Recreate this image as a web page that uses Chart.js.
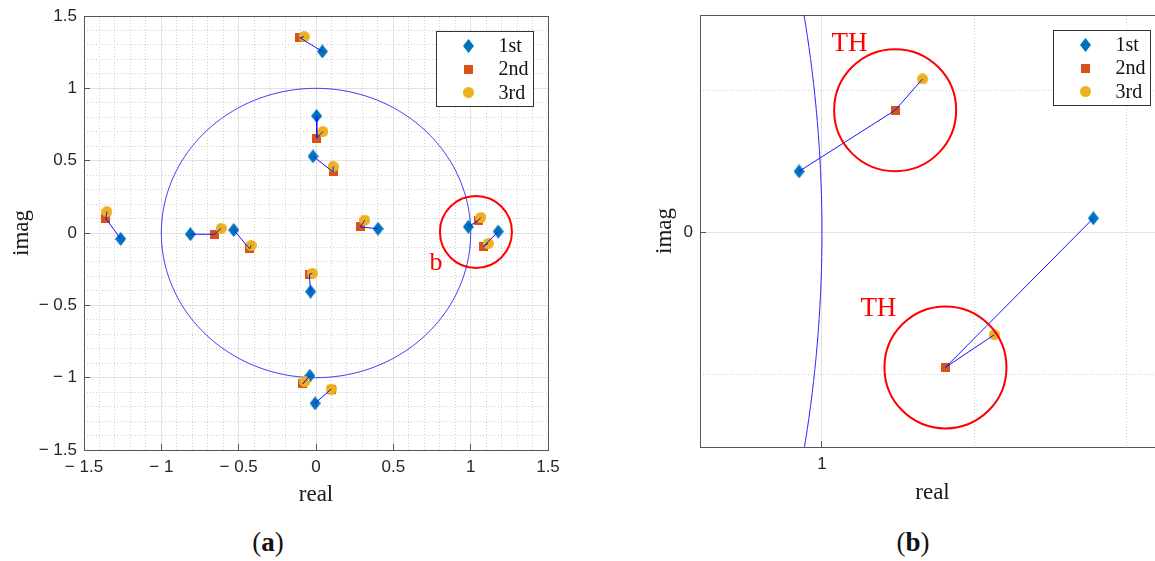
<!DOCTYPE html>
<html><head><meta charset="utf-8">
<script src="https://cdn.jsdelivr.net/npm/chart.js@4"></script>
<style>
html,body{margin:0;padding:0;background:#fff;overflow:hidden;width:1155px;height:561px;position:relative;}
canvas{position:absolute;top:0;}
.cap{position:absolute;top:527px;width:80px;text-align:center;font-family:'Liberation Serif',serif;font-size:27px;color:#111;}
</style></head><body>
<canvas id="ca" width="560" height="509" style="left:0"></canvas>
<canvas id="cb" width="580" height="507" style="left:590px"></canvas>
<div class="cap" style="left:228px">(<b>a</b>)</div>
<div class="cap" style="left:873px">(<b>b</b>)</div>
<script>
// ---- data: pole positions (real / imag) for the 1st, 2nd and 3rd iterations ----
const firstRe  = [0.041, 0.004, -0.019, -1.263, -0.812, -0.532, 0.401, 0.985, 1.178, -0.035, -0.040, -0.006];
const firstIm  = [1.255, 0.809, 0.530, -0.041, -0.008, 0.021, 0.029, 0.043, 0.010, -0.405, -0.987, -1.177];
const secondRe = [-0.105, 0.005, 0.110, -1.359, -0.657, -0.429, 0.288, 1.048, 1.081, -0.043, -0.085, 0.097];
const secondIm = [1.350, 0.656, 0.423, 0.101, -0.009, -0.110, 0.042, 0.086, -0.095, -0.285, -1.042, -1.080];
const thirdRe  = [-0.077, 0.045, 0.111, -1.352, -0.613, -0.420, 0.315, 1.066, 1.113, -0.024, -0.072, 0.098];
const thirdIm  = [1.357, 0.702, 0.460, 0.147, 0.032, -0.086, 0.089, 0.108, -0.072, -0.279, -1.027, -1.079];
const seriesNames = ['1st', '2nd', '3rd'];

// tick labels
const aXTicks = [-1.5, -1, -0.5, 0, 0.5, 1, 1.5];
const aXTickLabels = ['\u2212 1.5', '\u2212 1', '\u2212 0.5', '0', '0.5', '1', '1.5'];
const aYTicks = [-1.5, -1, -0.5, 0, 0.5, 1, 1.5];
const aYTickLabels = ['\u2212 1.5', '\u2212 1', '\u2212 0.5', '0', '0.5', '1', '1.5'];
const bXTicks = [1];
const bXTickLabels = ['1'];
const bYTicks = [0];
const bYTickLabels = ['0'];
const aMinorTicks = [];
for (let k = -14; k <= 14; k++) if (k % 5 !== 0) aMinorTicks.push(k / 10);
const bXMinorTicks = [1.1, 1.2];
const bYMinorTicks = [-0.1, 0.1];

// unit circle reference curve
const unitAngles = [];
for (let d = 0; d <= 360; d += 0.5) unitAngles.push(d * Math.PI / 180);
const unitCircle = unitAngles.map(t => ({x: Math.cos(t), y: Math.sin(t)}));

// ---- marker images ----
function mk(w, h, draw) { const c = document.createElement('canvas'); c.width = w; c.height = h; draw(c.getContext('2d'), w, h); return c; }
const diamondImg = mk(11, 14, (g, w, h) => { g.fillStyle = '#0072BD'; g.beginPath(); g.moveTo(w/2, 0); g.lineTo(w, h/2); g.lineTo(w/2, h); g.lineTo(0, h/2); g.closePath(); g.fill(); });
const squareImg = mk(9, 9, (g, w, h) => { g.fillStyle = '#D95319'; g.fillRect(0, 0, w, h); });
const circleImg = mk(11, 11, (g, w, h) => { g.fillStyle = '#EDB120'; g.beginPath(); g.arc(w/2, h/2, w/2, 0, Math.PI*2); g.fill(); });

const pts = (re, im) => re.map((v, i) => ({x: v, y: im[i]}));

// ---- plugins ----
const boxLegend = {
  id: 'boxLegend',
  afterDraw(chart, args, o) {
    const {ctx, chartArea} = chart;
    const items = chart.data.datasets.filter(d => d.inLegend);
    const x0 = Math.round(chartArea.right - o.inset - o.width) + 0.5;
    const y0 = Math.round(chartArea.top + o.inset) + 0.5;
    ctx.save();
    ctx.fillStyle = '#fff';
    ctx.fillRect(x0, y0, o.width, o.height);
    ctx.strokeStyle = '#333'; ctx.lineWidth = 1;
    ctx.strokeRect(x0, y0, o.width, o.height);
    ctx.font = o.font; ctx.fillStyle = '#111'; ctx.textAlign = 'left'; ctx.textBaseline = 'middle';
    items.forEach((d, i) => {
      const y = y0 + o.firstRow + i * o.rowGap;
      const img = d.pointStyle;
      ctx.drawImage(img, Math.round(x0 + o.markerX - img.width/2), Math.round(y - img.height/2));
      ctx.fillText(d.label, x0 + o.textX, y + 1);
    });
    ctx.restore();
  }
};
const textMarks = {
  id: 'textMarks',
  afterDatasetsDraw(chart, args, o) {
    const {ctx, scales} = chart;
    ctx.save();
    ctx.font = o.font; ctx.fillStyle = o.color; ctx.textAlign = 'center'; ctx.textBaseline = 'middle';
    (o.items || []).forEach(it => ctx.fillText(it.text, scales.x.getPixelForValue(it.x), scales.y.getPixelForValue(it.y)));
    ctx.restore();
  }
};

function makeDatasets(marks) {
  const ds = [];
  ds.push({type: 'line', data: unitCircle, borderColor: 'rgb(25,25,255)', borderWidth: 1, pointRadius: 0, tension: 0.0001, fill: false, order: 10});
  ds.push({label: seriesNames[0], data: pts(firstRe, firstIm), pointStyle: diamondImg, pointRadius: 6, inLegend: true, order: 6});
  ds.push({label: seriesNames[1], data: pts(secondRe, secondIm), pointStyle: squareImg, pointRadius: 5, inLegend: true, order: 5});
  ds.push({label: seriesNames[2], data: pts(thirdRe, thirdIm), pointStyle: circleImg, pointRadius: 5, inLegend: true, order: 4});
  firstRe.forEach((v, i) => {
    ds.push({type: 'line', data: [{x: firstRe[i], y: firstIm[i]}, {x: secondRe[i], y: secondIm[i]}, {x: thirdRe[i], y: thirdIm[i]}],
      borderColor: 'rgb(20,20,255)', borderWidth: 1, pointRadius: 0, tension: 0, fill: false, order: 3});
  });
  ds.push({data: marks.centers, pointStyle: 'circle', pointRadius: marks.radius, backgroundColor: 'rgba(0,0,0,0)',
    borderColor: '#ff0000', borderWidth: 2, order: 2});
  return ds;
}

function noPad(s) { s.paddingLeft = 0; s.paddingRight = 0; s.paddingTop = 0; s.paddingBottom = 0; }

function axes(p) {
  const tickFont = {family: 'Liberation Sans', size: 17};
  const titleFont = {family: 'Liberation Serif', size: 23};
  const majorGrid = {color: '#e2e2e2', lineWidth: 1, drawTicks: true, tickLength: -6, tickColor: '#555', tickWidth: 1};
  return {
    x: {type: 'linear', position: 'bottom', min: p.xmin, max: p.xmax,
      afterBuildTicks: s => { s.ticks = p.xTicks.map(v => ({value: v})); },
      ticks: {callback: (v, i) => p.xLabels[i], font: tickFont, color: '#262626', padding: 13, maxRotation: 0, autoSkip: false},
      grid: majorGrid, border: {color: '#555', width: 1},
      title: {display: true, text: 'real', font: titleFont, color: '#1a1a1a', padding: 0},
      afterFit: s => { s.height = p.xh; noPad(s); }},
    y: {type: 'linear', position: 'left', min: p.ymin, max: p.ymax,
      afterBuildTicks: s => { s.ticks = p.yTicks.map(v => ({value: v})); },
      ticks: {callback: (v, i) => p.yLabels[i], font: tickFont, color: '#262626', padding: 13, autoSkip: false},
      grid: majorGrid, border: {color: '#555', width: 1},
      title: {display: true, text: 'imag', font: titleFont, color: '#1a1a1a', padding: {top: p.yTitlePad, bottom: 0}},
      afterFit: s => { s.width = p.yw; noPad(s); }},
    x2: {type: 'linear', position: 'top', min: p.xmin, max: p.xmax,
      afterBuildTicks: s => { s.ticks = p.xMinor.map(v => ({value: v})); },
      ticks: {display: false}, grid: {color: '#cfcfcf', lineWidth: 1, drawTicks: false},
      border: {display: true, color: '#555', width: 1, dash: [1, 2]},
      afterFit: s => { s.height = 0; noPad(s); }},
    y2: {type: 'linear', position: 'right', min: p.ymin, max: p.ymax,
      afterBuildTicks: s => { s.ticks = p.yMinor.map(v => ({value: v})); },
      ticks: {display: false}, grid: {color: '#cfcfcf', lineWidth: 1, drawTicks: false},
      border: {display: true, color: '#555', width: 1, dash: [1, 2]},
      afterFit: s => { s.width = 0; noPad(s); }}
  };
}

const legendOpts = {width: 97, height: 75, inset: 15, firstRow: 14, rowGap: 23.5, markerX: 32, textX: 62, font: '20px "Liberation Serif"'};

new Chart(document.getElementById('ca'), {
  type: 'scatter',
  data: {datasets: makeDatasets({centers: [{x: 1.034, y: 0.007}], radius: 36})},
  options: {
    responsive: false, animation: false, events: [],
    layout: {autoPadding: false, padding: {left: 0, top: 16, right: 12, bottom: 0}},
    scales: axes({xmin: -1.5, xmax: 1.5, ymin: -1.5, ymax: 1.5, xTicks: aXTicks, xLabels: aXTickLabels, yTicks: aYTicks, yLabels: aYTickLabels,
      xMinor: aMinorTicks, yMinor: aMinorTicks, xh: 59, yw: 84, yTitlePad: 8}),
    plugins: {legend: {display: false}, tooltip: {enabled: false},
      boxLegend: legendOpts,
      textMarks: {font: '26px "Liberation Serif"', color: '#ff0000', items: [{text: 'b', x: 0.776, y: -0.207}]}}
  },
  plugins: [boxLegend, textMarks]
});

new Chart(document.getElementById('cb'), {
  type: 'scatter',
  data: {datasets: makeDatasets({centers: [{x: secondRe[7], y: secondIm[7]}, {x: secondRe[8], y: secondIm[8]}], radius: 61})},
  options: {
    responsive: false, animation: false, events: [],
    layout: {autoPadding: false, padding: {left: 0, top: 15, right: 5, bottom: 0}},
    scales: axes({xmin: 0.92, xmax: 1.225, ymin: -0.151, ymax: 0.153, xTicks: bXTicks, xLabels: bXTickLabels, yTicks: bYTicks, yLabels: bYTickLabels,
      xMinor: bXMinorTicks, yMinor: bYMinorTicks, xh: 60, yw: 110, yTitlePad: 61}),
    plugins: {legend: {display: false}, tooltip: {enabled: false},
      boxLegend: legendOpts,
      textMarks: {font: '27px "Liberation Serif"', color: '#ff0000', items: [{text: 'TH', x: 1.018, y: 0.133}, {text: 'TH', x: 1.037, y: -0.0535}]}}
  },
  plugins: [boxLegend, textMarks]
});
</script>
</body></html>
